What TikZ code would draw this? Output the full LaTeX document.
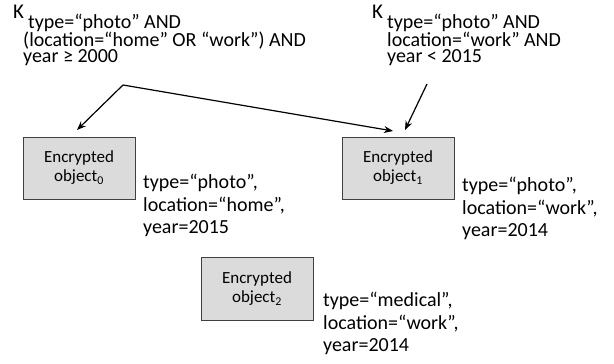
\documentclass[tikz,border=0pt]{standalone}
\usepackage{fontspec}
\setmainfont{Carlito}
\usetikzlibrary{arrows.meta,shadows}
\newcommand\boxfnt{\fontsize{17}{19}\selectfont}
\newcommand\attrfnt{\fontsize{20}{22.5}\selectfont}
\newcommand\keyfnt{\fontsize{20}{17.5}\selectfont}
\begin{document}
\begin{tikzpicture}[x=1pt,y=1pt,
  encbox/.style={draw=black!75, fill=black!14, line width=0.8pt, minimum width=112pt, minimum height=62pt,
    inner sep=0pt, align=center, font=\boxfnt,
    drop shadow={opacity=0.12, shadow xshift=0.8pt, shadow yshift=-1.2pt, fill=blue!40!black}},
  attr/.style={anchor=base west, align=left, inner sep=0pt, font=\attrfnt},
  keytxt/.style={anchor=base west, align=left, inner sep=0pt, font=\keyfnt},
  arr/.style={line width=1.2pt, -{Stealth[length=9pt,width=7pt]}}]
\useasboundingbox (0,0) rectangle (614,364);
% boxes
\node[encbox] (b0) at (79,196) {Encrypted\\object\textsubscript{0}};
\node[encbox] (b1) at (398,196) {Encrypted\\object\textsubscript{1}};
\node[encbox, minimum height=63pt] (b2) at (257,75.5) {Encrypted\\object\textsubscript{2}};
% attribute labels (anchored at last line's baseline)
\node[attr] (a0) at (143,130) {type=“photo”,\\location=“home”,\\year=2015};
\node[attr] (a1) at (462,127) {type=“photo”,\\location=“work”,\\year=2014};
\node[attr] (a2) at (323,12) {type=“medical”,\\location=“work”,\\year=2014};
% keys
\node[keytxt, font=\fontsize{21}{21}\selectfont] (k0K) at (13,345) {K};
\node[keytxt] (k0) at (23,301) {\hspace*{5pt}type=“photo” AND\\[-1pt](location=“home” OR “work”) AND\\[-1pt]year ≥ 2000};
\node[keytxt, font=\fontsize{21}{21}\selectfont] (k1K) at (372,345) {K};
\node[keytxt] (k1) at (387,301) {type=“photo” AND\\[-1pt]location=“work” AND\\[-1pt]year < 2015};
% arrows
\coordinate (split) at (123,279);
\coordinate (t0) at (77,234);
\coordinate (t1) at (393,233);
\coordinate (s1) at (427,280);
\coordinate (t1b) at (405,234);
\draw[arr] (split) -- (t0);
\draw[arr] (split) -- (t1);
\draw[arr] (s1) -- (t1b);
\end{tikzpicture}
\end{document}
